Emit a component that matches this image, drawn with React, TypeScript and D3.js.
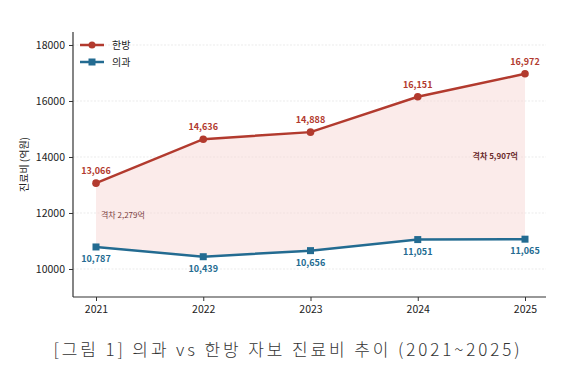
import React, { useRef, useEffect } from 'react';
import * as d3 from 'd3';

const years = [2021, 2022, 2023, 2024, 2025];
const hanbang = [13066, 14636, 14888, 16151, 16972];
const uigwa = [10787, 10439, 10656, 11051, 11065];
const yTicks = [10000, 12000, 14000, 16000, 18000];
const gapLabels = ['격차 2,279억', '격차 5,907억'];

const RED = '#b23a2e';
const BLUE = '#236b91';
const FONT = "'Noto Sans CJK KR', 'Noto Sans', sans-serif";

const App = () => {
  const ref = useRef<SVGSVGElement>(null);

  useEffect(() => {
    const width = 576;
    const height = 371;
    const left = 73, right = 546, top = 32, bottom = 297;

    const svg = d3.select(ref.current);
    svg.selectAll('*').remove();
    svg.append('rect').attr('width', width).attr('height', height).attr('fill', '#fff');

    const x = d3.scalePoint<number>().domain(years).range([96, 525]);
    const y = d3.scaleLinear().domain([9000, 18464]).range([bottom, top]);

    // grid
    svg.append('g')
      .selectAll('line')
      .data(yTicks)
      .join('line')
        .attr('x1', left)
        .attr('x2', right)
        .attr('y1', d => y(d))
        .attr('y2', d => y(d))
        .attr('stroke', '#e6e6e6')
        .attr('stroke-width', 0.8)
        .attr('stroke-dasharray', '2,1.5');

    // gap area
    const area = d3.area<number>()
      .x((d, i) => x(years[i])!)
      .y0((d, i) => y(uigwa[i]))
      .y1(d => y(d));
    svg.append('path')
      .attr('d', area(hanbang))
      .attr('fill', '#f8d7d5')
      .attr('opacity', 0.5);

    // axes
    const yAxis = svg.append('g')
      .attr('transform', `translate(${left},0)`)
      .call(d3.axisLeft(y).tickValues(yTicks).tickSize(4).tickPadding(4).tickFormat(d3.format('d')));
    yAxis.select('.domain').attr('d', `M0,${top}V${bottom}`).attr('stroke', '#333').attr('stroke-width', 1.2);

    const xAxis = svg.append('g')
      .attr('transform', `translate(0,${bottom})`)
      .call(d3.axisBottom(x).tickSize(4).tickPadding(5).tickFormat(d3.format('d')));
    xAxis.select('.domain').attr('d', `M${left},0H${right}`).attr('stroke', '#333').attr('stroke-width', 1.2);

    svg.selectAll('.tick text')
      .attr('font-family', FONT)
      .attr('font-size', 10.5)
      .attr('fill', '#222');
    svg.selectAll('.tick line').attr('stroke', '#333');

    svg.append('text')
      .attr('transform', `translate(28,${(top + bottom) / 2}) rotate(-90)`)
      .attr('text-anchor', 'middle')
      .attr('font-family', FONT)
      .attr('font-size', 10)
      .attr('fill', '#222')
      .text('진료비 (억원)');

    const line = d3.line<number>().x((d, i) => x(years[i])!).y(d => y(d));

    // 의과
    svg.append('path')
      .attr('d', line(uigwa))
      .attr('fill', 'none')
      .attr('stroke', BLUE)
      .attr('stroke-width', 2.5);
    svg.append('g')
      .selectAll('rect')
      .data(uigwa)
      .join('rect')
        .attr('x', (d, i) => x(years[i])! - 3.5)
        .attr('y', d => y(d) - 3.5)
        .attr('width', 7)
        .attr('height', 7)
        .attr('fill', BLUE);
    svg.append('g')
      .selectAll('text')
      .data(uigwa)
      .join('text')
        .attr('x', (d, i) => x(years[i])!)
        .attr('y', d => y(d) + 15)
        .attr('text-anchor', 'middle')
        .attr('font-family', FONT)
        .attr('font-size', 9)
        .attr('font-weight', 700)
        .attr('fill', BLUE)
        .text(d => d3.format(',')(d));

    // 한방
    svg.append('path')
      .attr('d', line(hanbang))
      .attr('fill', 'none')
      .attr('stroke', RED)
      .attr('stroke-width', 2.5);
    svg.append('g')
      .selectAll('circle')
      .data(hanbang)
      .join('circle')
        .attr('cx', (d, i) => x(years[i])!)
        .attr('cy', d => y(d))
        .attr('r', 3.8)
        .attr('fill', RED);
    svg.append('g')
      .selectAll('text')
      .data(hanbang)
      .join('text')
        .attr('x', (d, i) => x(years[i])!)
        .attr('y', d => y(d) - 9)
        .attr('text-anchor', 'middle')
        .attr('font-family', FONT)
        .attr('font-size', 9)
        .attr('font-weight', 700)
        .attr('fill', RED)
        .text(d => d3.format(',')(d));

    // gap annotations
    svg.append('text')
      .attr('x', x(years[0])! + 5)
      .attr('y', y((hanbang[0] + uigwa[0]) / 2) + 3)
      .attr('font-family', FONT)
      .attr('font-size', 8)
      .attr('fill', '#7a4040')
      .text(gapLabels[0]);
    svg.append('text')
      .attr('x', x(years[4])! - 7)
      .attr('y', y((hanbang[4] + uigwa[4]) / 2) + 3)
      .attr('text-anchor', 'end')
      .attr('font-family', FONT)
      .attr('font-size', 8)
      .attr('font-weight', 700)
      .attr('fill', '#6a2a2a')
      .text(gapLabels[1]);

    // legend
    const legend = svg.append('g').attr('transform', 'translate(80,45)');
    const items = [
      { name: '한방', color: RED, shape: 'circle' },
      { name: '의과', color: BLUE, shape: 'square' },
    ];
    items.forEach((it, i) => {
      const g = legend.append('g').attr('transform', `translate(0,${i * 17})`);
      g.append('line').attr('x1', 0).attr('x2', 24).attr('stroke', it.color).attr('stroke-width', 2.5);
      if (it.shape === 'circle') g.append('circle').attr('cx', 12).attr('r', 3.5).attr('fill', it.color);
      else g.append('rect').attr('x', 8.5).attr('y', -3.5).attr('width', 7).attr('height', 7).attr('fill', it.color);
      g.append('text')
        .attr('x', 32)
        .attr('y', 3.5)
        .attr('font-family', FONT)
        .attr('font-size', 10)
        .attr('fill', '#222')
        .text(it.name);
    });

    // caption
    svg.append('text')
      .attr('x', 288)
      .attr('y', 356)
      .attr('text-anchor', 'middle')
      .attr('font-family', FONT)
      .attr('font-size', 17)
      .attr('font-weight', 300)
      .attr('letter-spacing', 2.9)
      .attr('fill', '#333')
      .text('[그림 1] 의과 vs 한방 자보 진료비 추이 (2021~2025)');
  }, []);

  return (
    <div style={{ position: 'absolute', left: 0, top: 0 }}>
      <svg ref={ref} width={576} height={371} style={{ display: 'block' }} />
    </div>
  );
};

export default App;
